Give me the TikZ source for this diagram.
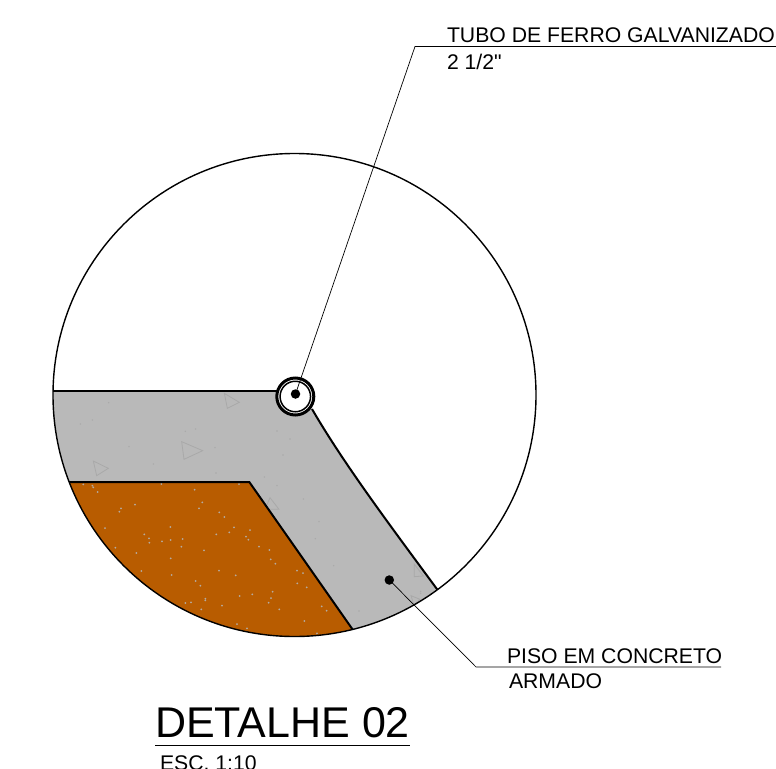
\documentclass[tikz,border=0pt]{standalone}
\usepackage{fontspec}
\setmainfont{Liberation Sans}
\newfontfamily\plainsans{Liberation Sans}
\definecolor{concrete}{HTML}{B9B9B9}
\definecolor{soil}{HTML}{B85C00}
\definecolor{markgray}{HTML}{A9A9A9}
\definecolor{speckcol}{HTML}{B5ABA0}
\tikzset{
  heavy/.style={line width=2pt,draw=black},
  outlinestyle/.style={line width=1.4pt,draw=black},
  leader/.style={line width=0.7pt,draw=black},
  aggregate/.style={line width=0.8pt,draw=markgray},
  txtlabel/.style={anchor=base west,inner sep=0pt,outer sep=0pt,font=\plainsans\fontsize{21.2}{25}\selectfont},
  titletext/.style={anchor=base west,inner sep=0pt,outer sep=0pt,font=\plainsans\fontsize{43}{50}\selectfont},
  dotmark/.style={circle,fill=black,inner sep=0pt,minimum size=9.5pt},
}
\begin{document}
\begin{tikzpicture}[x=1pt,y=-1pt]
\useasboundingbox (0,0) rectangle (776,768);
\coordinate (C) at (294.5,395);
\begin{scope}
  \clip (C) circle (241.5);
  % concrete band
  \fill[concrete] (40,391) -- (280,391) -- (312,409) .. controls (345,466) and (395,532) .. (445,600) -- (352.7,640) -- (40,640) -- cycle;
  % soil
  \fill[soil] (60,482) -- (249.3,482) -- (352.7,629.6) -- (360,650) -- (60,650) -- cycle;
  % aggregate triangles
  \foreach \a/\b/\c/\d/\e/\f in {583/100/628/127/592/145,455/245/518/272/462/298,190/303/235/325/200/347}
    \draw[aggregate] ({\a/3+30},{\b/3+360}) -- ({\c/3+30},{\d/3+360}) -- ({\e/3+30},{\f/3+360}) -- cycle;
  \begin{scope}
    \clip (312,409) .. controls (345,466) and (395,532) .. (445,600) -- (352.7,629.6) -- (249.3,482) -- cycle;
    \foreach \a/\b/\c/\d/\e/\f in {120/203/147/238/105/238,553/403/580/438/553/440,543/497/570/508/552/525}
      \draw[aggregate] ({\a/3+230},{\b/3+430}) -- ({\c/3+230},{\d/3+430}) -- ({\e/3+230},{\f/3+430}) -- cycle;
  \end{scope}
  % concrete specks
  \foreach \x/\y in {236/128,151/192,187/180,297/260,466/214,497/207,555/263,370/312,558/339,741/213,780/237,759/285,703/351,741/377,820/417}
    \fill[markgray] ({\x/3+30},{\y/3+360}) circle (0.8);
  \foreach \x/\y in {267/275,256/326,311/407,387/543,572/490,572/484}
    \fill[markgray] ({\x/3+230},{\y/3+430}) circle (0.8);
  % soil specks
  \foreach \x/\y in {70/43,97/47,100/52,113/66,304/42,404/59,537/42,427/97,417/115,225/104,183/115,178/125,478/127,493/141,135/174,331/171,522/172,570/180,508/187,469/193,253/193,267/205,268/218,306/214,332/210,368/207,558/200,565/209,364/230,166/233,229/249,432/241,597/230,628/240,332/265,632/268,646/281,244/303,335/315,477/302,527/316,711/302,729/309,407/333,421/347,712/340,740/352,638/365,577/373,539/378,633/384,436/386,436/391,393/397,376/399,626/398,486/407,424/418,658/418,785/409,800/422,733/453,531/462,561/475,771/490}
    \fill[speckcol] ({\x/3+60},{\y/3+470}) circle (1);
  % edges
  \draw[heavy] (40,391) -- (280,391);
  \draw[heavy] (312,409) .. controls (345,466) and (395,532) .. (445,600);
  \draw[heavy] (60,482) -- (249.3,482) -- (352.7,629.6);
\end{scope}
\draw[outlinestyle] (C) circle (241.5);
% pipe
\node[circle,draw=black,line width=3pt,fill=white,inner sep=0pt,minimum size=37pt] (pipeouter) at (295.3,396.5) {};
\node[circle,draw=black,line width=1.5pt,fill=white,inner sep=0pt,minimum size=30.5pt] (pipeinner) at (295.3,396.5) {};
\node[dotmark] (dotA) at (295.5,394) {};
\node[dotmark] (dotB) at (389.3,580) {};
% leaders
\coordinate (kneeA) at (415,46.5);
\coordinate (endA) at (776,46.5);
\coordinate (kneeB) at (476,667);
\coordinate (endB) at (721,667);
\draw[leader] (dotA.center) -- (kneeA) -- (endA);
\draw[leader] (dotB.center) -- (kneeB) -- (endB);
% labels
\node[txtlabel] (tubeA) at (447,43) {TUBO DE FERRO GALVANIZADO};
\node[txtlabel] (tubeB) at (447,70) {2 1/2"};
\node[txtlabel] (pisoA) at (507,663.3) {PISO EM CONCRETO};
\node[txtlabel] (pisoB) at (509,688) {ARMADO};
\node[titletext] (title) at (155,737.3) {DETALHE 02};
\coordinate (ruleL) at (155,745.7);
\coordinate (ruleR) at (410,745.7);
\draw[line width=1.3pt] (ruleL) -- (ruleR);
\node[txtlabel] (scale) at (160,770) {ESC. 1:10};
\end{tikzpicture}
\end{document}
